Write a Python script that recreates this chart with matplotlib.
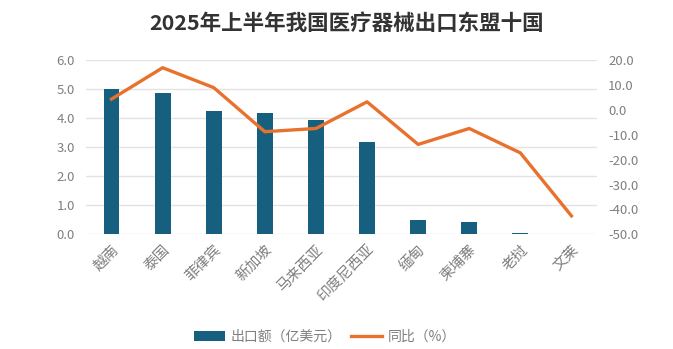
import matplotlib
matplotlib.use("Agg")
import matplotlib.pyplot as plt
import numpy as np

plt.rcParams['font.family'] = ['Noto Sans CJK SC', 'DejaVu Sans']

countries = ["越南", "泰国", "菲律宾", "新加坡", "马来西亚", "印度尼西亚", "缅甸", "柬埔寨", "老挝", "文莱"]
export_value = [5.0, 4.88, 4.25, 4.16, 3.92, 3.18, 0.49, 0.43, 0.04, 0.0]
yoy = [4.3, 16.9, 8.9, -8.8, -7.5, 3.2, -13.9, -7.5, -17.3, -42.6]
left_ticks = [0.0, 1.0, 2.0, 3.0, 4.0, 5.0, 6.0]
right_ticks = [-50.0, -40.0, -30.0, -20.0, -10.0, 0.0, 10.0, 20.0]

bar_color = "#175f7f"
line_color = "#e8722d"
tick_color = "#7f7f7f"
grid_color = "#e3e3e3"

fig = plt.figure(figsize=(6.73, 3.49), dpi=100)
ax = fig.add_axes([86/673, 1 - 234.3/349, (597-86)/673, 174.3/349])
x = np.arange(len(countries))
bars = ax.bar(x, export_value, width=0.31, color=bar_color, label="出口额（亿美元）", zorder=2)
ax.set_xlim(-0.5, len(countries) - 0.5)
ax.set_ylim(0, 6)
ax.set_yticks(left_ticks)
ax.set_yticklabels([f"{v:.1f}" for v in left_ticks])
ax.grid(axis='y', color=grid_color, linewidth=1, zorder=0)
ax.set_axisbelow(True)
for s in ax.spines.values():
    s.set_visible(False)
ax.tick_params(axis='both', length=0, colors=tick_color, labelsize=9.5)
ax.tick_params(axis='y', pad=8)
ax.tick_params(axis='x', pad=6)
ax.set_xticks(x)
ax.set_xticklabels(countries, rotation=45, ha='right', rotation_mode='anchor', fontsize=10.5, color=tick_color)

ax2 = ax.twinx()
line, = ax2.plot(x, yoy, color=line_color, linewidth=2.4, label="同比（%）", zorder=3)
ax2.set_ylim(-50, 20)
ax2.set_yticks(right_ticks)
ax2.set_yticklabels([f"{v:.1f}" for v in right_ticks])
for s in ax2.spines.values():
    s.set_visible(False)
ax2.tick_params(axis='y', length=0, colors=tick_color, labelsize=9.5, pad=8)

fig.text(347/673, 1 - 23/349, "2025年上半年我国医疗器械出口东盟十国", fontsize=15.5, fontweight='bold',
         color="#333333", ha='center', va='center')

fig.legend([bars, line], ["出口额（亿美元）", "同比（%）"], loc='center', bbox_to_anchor=(325/673, 1 - 337/349),
           ncol=2, frameon=False, fontsize=10, labelcolor=tick_color, handlelength=2.2, columnspacing=0.7,
           handletextpad=0.4)

fig.savefig("out.png", dpi=100, facecolor='white')
